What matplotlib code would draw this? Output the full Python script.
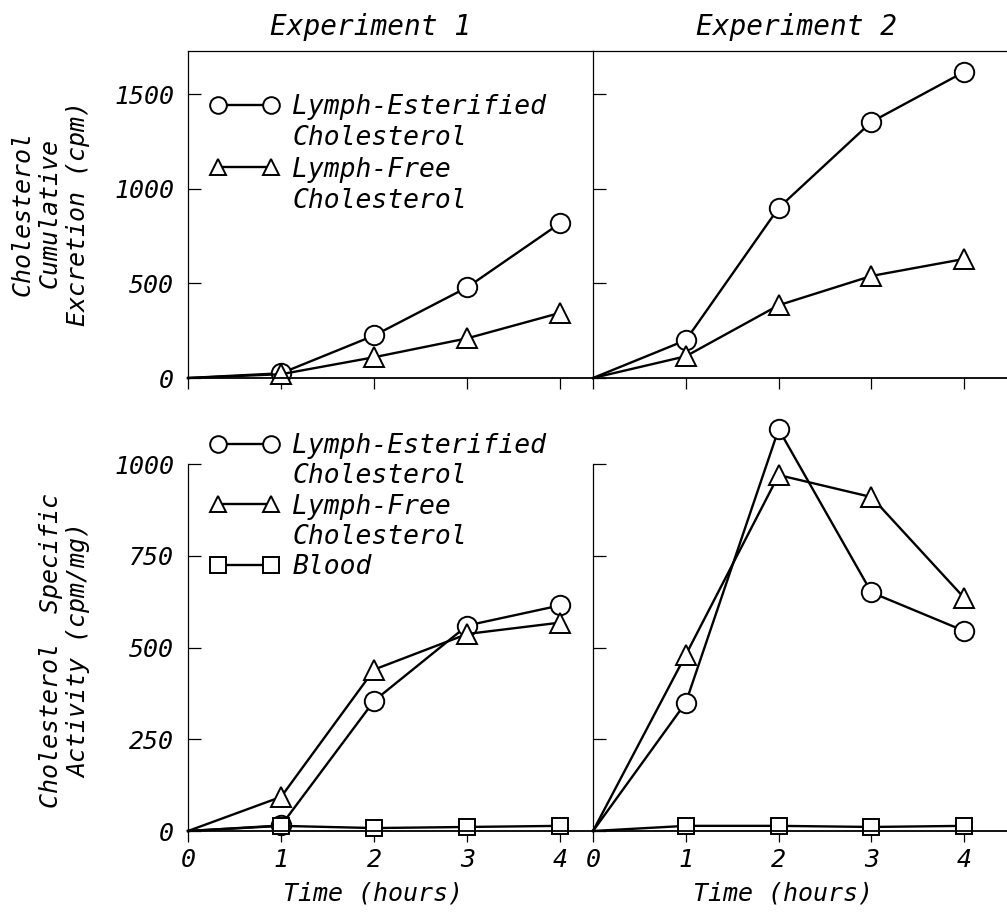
import matplotlib
matplotlib.use("Agg")
import matplotlib.pyplot as plt
from matplotlib.lines import Line2D

# time points (hours)
hours = [0, 1, 2, 3, 4]

# cumulative excretion (cpm)
exp1_cum_ester = [0, 25, 225, 480, 820]
exp1_cum_free = [0, 20, 110, 210, 345]
exp2_cum_ester = [0, 200, 900, 1355, 1620]
exp2_cum_free = [0, 115, 385, 540, 630]

# specific activity (cpm/mg)
exp1_sa_ester = [0, 15, 355, 560, 615]
exp1_sa_free = [0, 93, 440, 537, 568]
exp1_sa_blood = [0, 14, 8, 11, 14]
exp2_sa_ester = [0, 350, 1095, 650, 545]
exp2_sa_free = [0, 480, 970, 910, 635]
exp2_sa_blood = [0, 14, 14, 11, 14]

top_yticks = [0, 500, 1000, 1500]
bottom_yticks = [0, 250, 500, 750, 1000]
titles = ["Experiment 1", "Experiment 2"]
label_ester = ["Lymph-Esterified", "Cholesterol"]
label_free = ["Lymph-Free", "Cholesterol"]
label_blood = "Blood"

plt.rcParams["font.family"] = ["DejaVu Sans Mono", "DejaVu Sans"]
plt.rcParams["font.style"] = "oblique"
FS = 18

W, H = 1007, 922
fig = plt.figure(figsize=(W / 100, H / 100), dpi=100)


def fx(px):
    return px / W


def fy(py):
    return 1 - py / H


ax_tl = fig.add_axes([fx(188), fy(378), fx(593 - 188), fy(51) - fy(378)])
ax_tr = fig.add_axes([fx(593), fy(378), 1 - fx(593), fy(51) - fy(378)])
ax_bl = fig.add_axes([fx(188), fy(831), fx(593 - 188), fy(420) - fy(831)])
ax_br = fig.add_axes([fx(593), fy(831), 1 - fx(593), fy(420) - fy(831)])

mk = dict(color="black", lw=1.7, mfc="white", mec="black", mew=1.4)
circ = dict(marker="o", ms=14, **mk)
tri = dict(marker="^", ms=14, **mk)
sq = dict(marker="s", ms=12, **mk)
plot_opts = dict(clip_on=False, markevery=slice(1, None))


def style(ax, top, show_ylabels):
    ax.spines["right"].set_visible(False)
    for s in ax.spines.values():
        s.set_linewidth(0.9)
    ax.spines["bottom"].set_linewidth(1.3)
    if top:
        ax.set_ylim(0, 1730)
        ax.set_yticks(top_yticks)
        ax.set_xticklabels([])
    else:
        ax.spines["top"].set_visible(False)
        ax.set_ylim(0, 1120)
        ax.set_yticks(bottom_yticks)
        ax.spines["left"].set_bounds(0, 1000)
        ax.tick_params(axis="x", labelsize=FS, pad=4)
    ax.set_xticks(hours)
    ax.tick_params(axis="y", direction="in", length=9, width=0.9, labelsize=FS, pad=10)
    ax.tick_params(axis="x", direction="out", length=8, width=0.9)
    if not show_ylabels:
        ax.set_yticklabels([])


ax_tl.set_xlim(0, 4.35)
ax_tr.set_xlim(0, 4.46)
ax_bl.set_xlim(0, 4.35)
ax_br.set_xlim(0, 4.46)

ax_tl.plot(hours, exp1_cum_ester, **circ, **plot_opts)
ax_tl.plot(hours, exp1_cum_free, **tri, **plot_opts)
ax_tr.plot(hours, exp2_cum_ester, **circ, **plot_opts)
ax_tr.plot(hours, exp2_cum_free, **tri, **plot_opts)

ax_bl.plot(hours, exp1_sa_ester, **circ, **plot_opts)
ax_bl.plot(hours, exp1_sa_free, **tri, **plot_opts)
ax_bl.plot(hours, exp1_sa_blood, **sq, **plot_opts)
ax_br.plot(hours, exp2_sa_ester, **circ, **plot_opts)
ax_br.plot(hours, exp2_sa_free, **tri, **plot_opts)
ax_br.plot(hours, exp2_sa_blood, **sq, **plot_opts)

style(ax_tl, True, True)
style(ax_tr, True, False)
style(ax_bl, False, True)
style(ax_br, False, False)

# legends: marker pair on first line of each label
blank = Line2D([], [], linestyle="none", marker=None)
h_c = Line2D([], [], **circ)
h_t = Line2D([], [], **tri)
h_s = Line2D([], [], **sq)
for h in (h_c, h_t, h_s):
    h.set_markersize(12)
leg_opts = dict(loc="upper left", frameon=False, fontsize=FS + 1, numpoints=2,
                handlelength=2.6, handletextpad=0.5, borderpad=0,
                borderaxespad=0)
ax_tl.legend([h_c, blank, h_t, blank], label_ester + label_free,
             bbox_to_anchor=(0.0556, 0.868), labelspacing=0.2, **leg_opts)
ax_bl.legend([h_c, blank, h_t, blank, h_s], label_ester + label_free + [label_blood],
             bbox_to_anchor=(0.0556, 0.968), labelspacing=0.16, **leg_opts)

fig.text(fx(370), fy(27), titles[0], ha="center", va="center", fontsize=FS + 2)
fig.text(fx(797), fy(27), titles[1], ha="center", va="center", fontsize=FS + 2)

fig.text(fx(50), fy(213), "Cholesterol\nCumulative\nExcretion (cpm)", rotation=90,
         ha="center", va="center", multialignment="center", fontsize=FS)
fig.text(fx(65), fy(651), "Cholesterol  Specific\nActivity (cpm/mg)", rotation=90,
         ha="center", va="center", multialignment="center", fontsize=FS)

for ax in (ax_bl, ax_br):
    ax.set_xlabel("Time (hours)", fontsize=FS, va="center")
ax_bl.xaxis.set_label_coords((373 - 188) / 405, (831 - 893) / 411)
ax_br.xaxis.set_label_coords((783 - 593) / 414, (831 - 893) / 411)

fig.savefig("out.png", dpi=100)
